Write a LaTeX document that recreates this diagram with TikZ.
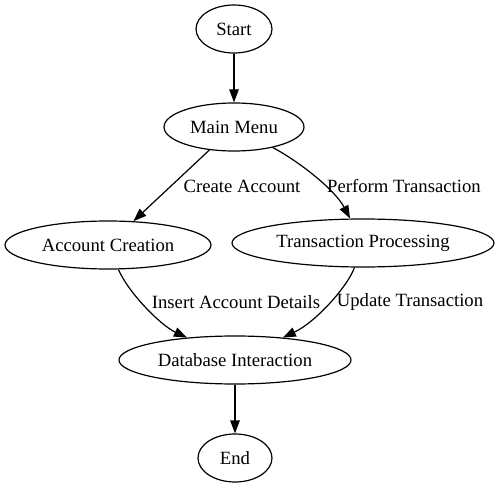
\documentclass[tikz,border=0pt]{standalone}
\usepackage{fontspec}
\setmainfont{Liberation Serif}
\usepackage{tikz}
\usetikzlibrary{shapes.geometric}
\usetikzlibrary{positioning}
\usetikzlibrary{arrows.meta}
\tikzstyle{state} = [ellipse, draw=black, line width=1.2pt, inner sep=0pt, minimum height=48pt, text centered, font=\fontsize{18.7}{22}\selectfont]
\tikzstyle{edgelabel} = [inner sep=0pt, font=\fontsize{18.7}{22}\selectfont]
\tikzstyle{arrow} = [line width=1.2pt,-{Triangle[length=13pt,width=9.5pt]}]

\begin{document}
\begin{tikzpicture}[x=1pt, y=-1pt, node distance=98pt]
        \useasboundingbox (0,0) rectangle (499,487);
        \node (start) [state, minimum width=76pt] at (234,29) {Start};
        \node (menu) [state, minimum width=140pt, below of=start] {Main Menu};
        \node (accCreate) [state, minimum width=206pt, below of=menu, yshift=-20pt, xshift=-126pt] {Account Creation};
        \node (transProc) [state, minimum width=262pt, below of=menu, yshift=-18pt, xshift=129pt] {Transaction Processing};
        \node (dbInter) [state, minimum width=232pt, below of=menu, yshift=-135pt, xshift=1pt] {Database Interaction};
        \node (stop) [state, minimum width=74pt, below of=dbInter] {End};

        % edge labels
        \node (lblCreate) [edgelabel] at (242,186) {Create Account};
        \node (lblPerform) [edgelabel] at (404,186) {Perform Transaction};
        \node (lblInsert) [edgelabel] at (236,302) {Insert Account Details};
        \node (lblUpdate) [edgelabel] at (410,302) {Update Transaction};

        \draw [arrow] (start) -- (menu);
        \draw [arrow] (menu) -- (accCreate);
        \draw [arrow] (menu) .. controls (300,162) and (335,190) .. (transProc);
        \draw [arrow] (accCreate) .. controls (128,292) and (160,325) .. (dbInter);
        \draw [arrow] (transProc) .. controls (348,286) and (316,322) .. (dbInter);
        \draw [arrow] (dbInter) -- (stop);
    \end{tikzpicture}
\end{document}
